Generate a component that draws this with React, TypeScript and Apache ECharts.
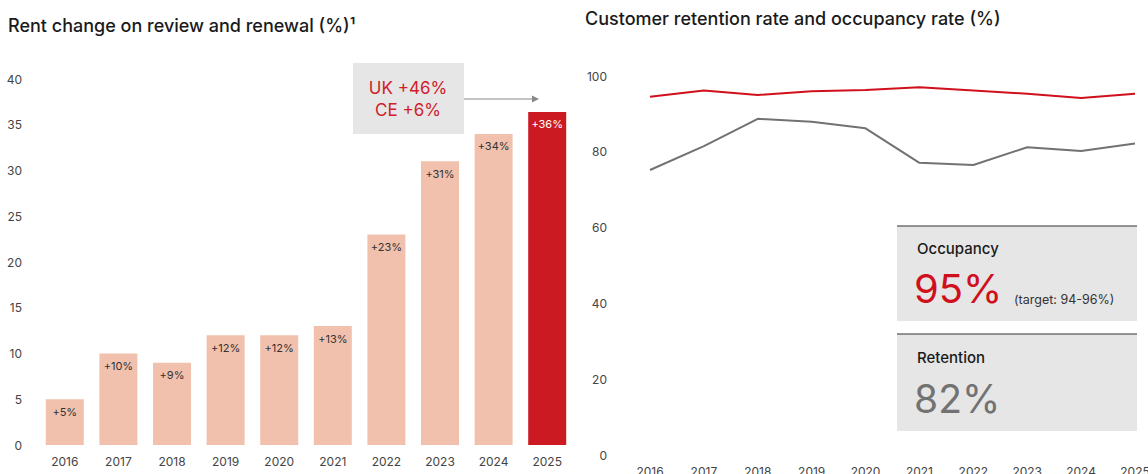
import React, { useEffect, useRef } from "react";
import * as echarts from "echarts";

const rentYears = ["2016", "2017", "2018", "2019", "2020", "2021", "2022", "2023", "2024", "2025"];
const rentValues = [5, 10, 9, 12, 12, 13, 23, 31, 34, 36.4];
const rentLabels = ["+5%", "+10%", "+9%", "+12%", "+12%", "+13%", "+23%", "+31%", "+34%", "+36%"];
const rentTicks = { min: 0, max: 40, interval: 5 };

const rateYears = ["2016", "2017", "2018", "2019", "2020", "2021", "2022", "2023", "2024", "2025"];
const occupancy = [94.5, 96.2, 95.0, 96.0, 96.3, 97.0, 96.2, 95.3, 94.2, 95.3];
const retention = [75.2, 81.5, 88.7, 87.9, 86.2, 77.1, 76.5, 81.2, 80.2, 82.2];
const rateTicks = { min: 0, max: 100, interval: 20 };

const FONT = "Inter, 'Noto Sans', sans-serif";
const PEACH = "#F1C1AD";
const RED = "#CC1A22";
const GREY_LINE = "#727272";
const BOX = "#E6E6E6";

export default function App() {
  const ref = useRef<HTMLDivElement>(null);
  useEffect(() => {
    if (!ref.current) return;
    const chart = echarts.init(ref.current, undefined, { renderer: "svg" });
    const last = rentValues.length - 1;
    chart.setOption({
      animation: false,
      textStyle: { fontFamily: FONT },
      grid: [
        { left: 38, width: 536, top: 79, bottom: 29, outerBoundsMode: "none", containLabel: false },
        { left: 650, right: 13, top: 76, bottom: 19, outerBoundsMode: "none", containLabel: false },
      ],
      xAxis: [
        {
          gridIndex: 0,
          type: "category",
          data: rentYears,
          axisLine: { show: false },
          axisTick: { show: false },
          axisLabel: { color: "#444", fontSize: 12, margin: 10, fontFamily: FONT },
        },
        {
          gridIndex: 1,
          type: "category",
          data: rateYears,
          boundaryGap: false,
          axisLine: { show: false },
          axisTick: { show: false },
          axisLabel: { color: "#444", fontSize: 12, margin: 10, fontFamily: FONT },
        },
      ],
      yAxis: [
        {
          gridIndex: 0,
          type: "value",
          min: rentTicks.min,
          max: rentTicks.max,
          interval: rentTicks.interval,
          splitLine: { show: false },
          axisLine: { show: false },
          axisTick: { show: false },
          axisLabel: { color: "#444", fontSize: 12, margin: 16, fontFamily: FONT },
        },
        {
          gridIndex: 1,
          type: "value",
          min: rateTicks.min,
          max: rateTicks.max,
          interval: rateTicks.interval,
          splitLine: { show: false },
          axisLine: { show: false },
          axisTick: { show: false },
          axisLabel: { color: "#444", fontSize: 12, margin: 43, fontFamily: FONT },
        },
      ],
      series: [
        {
          type: "bar",
          xAxisIndex: 0,
          yAxisIndex: 0,
          barWidth: 38,
          data: rentValues.map((v, i) => ({
            value: v,
            itemStyle: { color: i === last ? RED : PEACH },
            label: {
              show: true,
              position: "insideTop",
              distance: 7,
              fontSize: 11,
              fontFamily: FONT,
              color: i === last ? "#fff" : "#333",
              formatter: () => rentLabels[i],
            },
          })),
        },
        {
          type: "line",
          name: "Occupancy",
          xAxisIndex: 1,
          yAxisIndex: 1,
          data: occupancy,
          symbol: "none",
          lineStyle: { color: "#D0101C", width: 2 },
          z: 2,
        },
        {
          type: "line",
          name: "Retention",
          xAxisIndex: 1,
          yAxisIndex: 1,
          data: retention,
          symbol: "none",
          lineStyle: { color: GREY_LINE, width: 2 },
          z: 2,
        },
      ],
      graphic: [
        {
          type: "text",
          left: 8,
          top: 16,
          style: {
            text: "Rent change on review and renewal (%)\u00B9",
            fontSize: 18,
            fontWeight: 500,
            fontFamily: FONT,
            fill: "#1a1a1a",
          },
        },
        {
          type: "text",
          left: 585,
          top: 9,
          style: {
            text: "Customer retention rate and occupancy rate (%)",
            fontSize: 18,
            fontWeight: 500,
            fontFamily: FONT,
            fill: "#1a1a1a",
          },
        },
        // annotation box
        { type: "rect", shape: { x: 353, y: 63, width: 111, height: 71 }, style: { fill: BOX }, z: 10 },
        {
          type: "text",
          x: 408,
          y: 88,
          style: { text: "UK +46%", fontSize: 17, fontFamily: FONT, fill: "#D0202A", align: "center", verticalAlign: "middle" },
          z: 11,
        },
        {
          type: "text",
          x: 408,
          y: 110,
          style: { text: "CE +6%", fontSize: 17, fontFamily: FONT, fill: "#D0202A", align: "center", verticalAlign: "middle" },
          z: 11,
        },
        { type: "line", shape: { x1: 464, y1: 99, x2: 533, y2: 99 }, style: { stroke: "#888", lineWidth: 1 }, z: 10 },
        { type: "polygon", shape: { points: [[532, 95.5], [539, 99], [532, 102.5]] }, style: { fill: "#888" }, z: 10 },
        // occupancy box
        { type: "rect", shape: { x: 897, y: 226, width: 240, height: 95 }, style: { fill: BOX }, z: 10 },
        { type: "line", shape: { x1: 897, y1: 226, x2: 1137, y2: 226 }, style: { stroke: "#333", lineWidth: 1.2 }, z: 11 },
        {
          type: "text",
          x: 917,
          y: 248,
          style: { text: "Occupancy", fontSize: 15, fontWeight: 500, fontFamily: FONT, fill: "#1a1a1a", verticalAlign: "middle" },
          z: 11,
        },
        {
          type: "text",
          x: 914,
          y: 288,
          style: { text: "95%", fontSize: 40, fontFamily: FONT, fill: "#D0101C", verticalAlign: "middle" },
          z: 11,
        },
        {
          type: "text",
          x: 1014,
          y: 299,
          style: { text: "(target: 94-96%)", fontSize: 12.5, fontFamily: FONT, fill: "#333", verticalAlign: "middle" },
          z: 11,
        },
        // retention box
        { type: "rect", shape: { x: 897, y: 334, width: 240, height: 97 }, style: { fill: BOX }, z: 10 },
        { type: "line", shape: { x1: 897, y1: 334, x2: 1137, y2: 334 }, style: { stroke: "#333", lineWidth: 1.2 }, z: 11 },
        {
          type: "text",
          x: 917,
          y: 357,
          style: { text: "Retention", fontSize: 15, fontWeight: 500, fontFamily: FONT, fill: "#1a1a1a", verticalAlign: "middle" },
          z: 11,
        },
        {
          type: "text",
          x: 914,
          y: 398,
          style: { text: "82%", fontSize: 39, fontFamily: FONT, fill: GREY_LINE, verticalAlign: "middle" },
          z: 11,
        },
      ],
    });
    return () => chart.dispose();
  }, []);
  return (
    <div
      ref={ref}
      style={{ position: "fixed", left: 0, top: 0, width: 1148, height: 474, background: "#fff" }}
    />
  );
}
